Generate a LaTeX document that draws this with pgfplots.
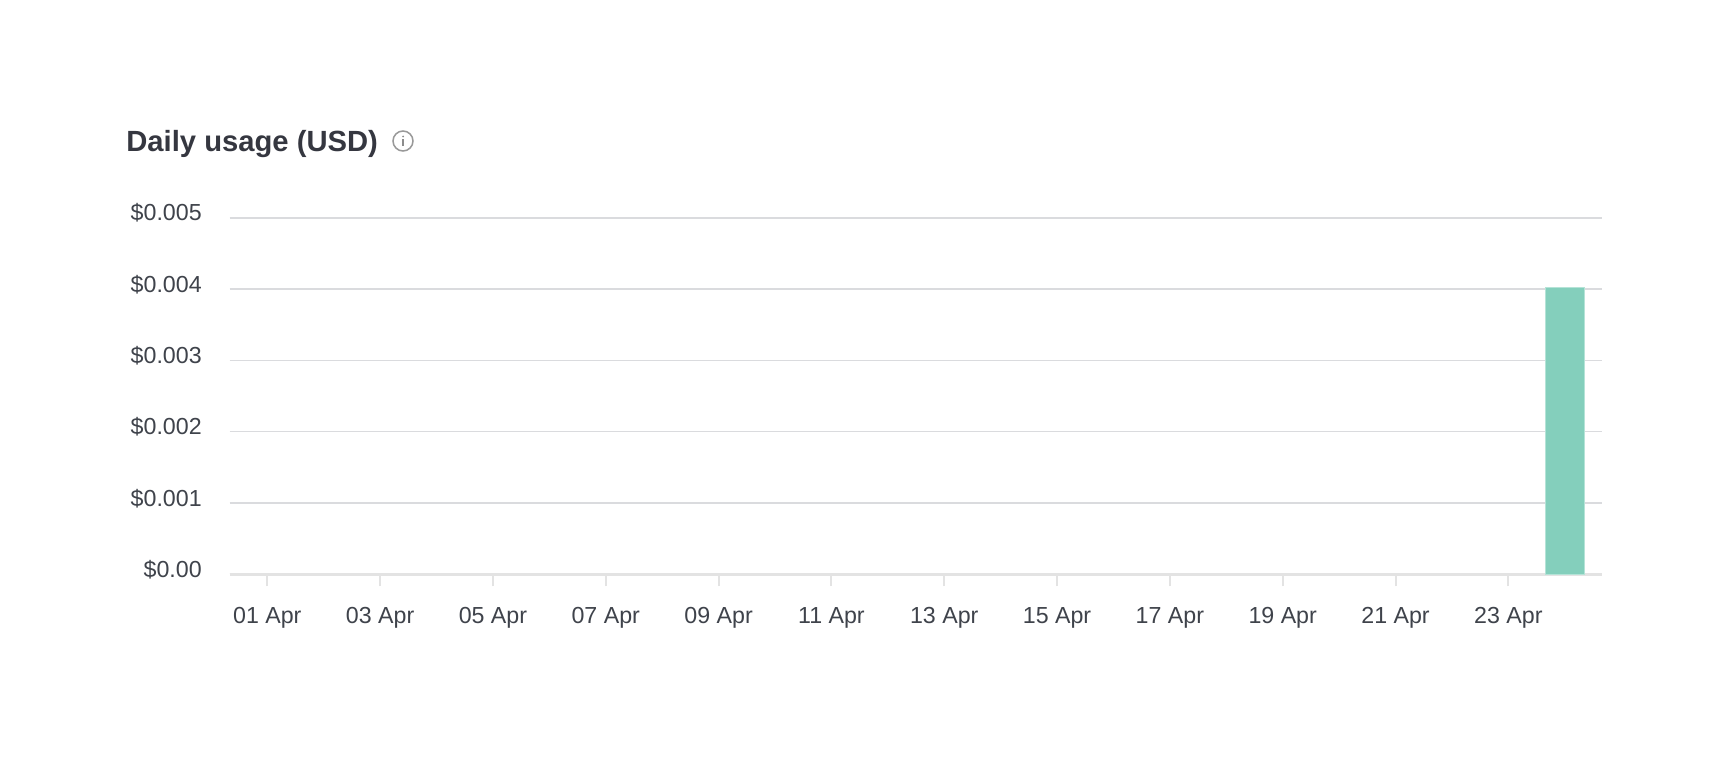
\documentclass[border=0pt]{standalone}
\usepackage{pgfplots}
\pgfplotsset{compat=1.18}
\usepackage{fontspec}
\setmainfont{Liberation Sans}
\definecolor{txt}{HTML}{3F434B}
\definecolor{ttl}{HTML}{353740}
\definecolor{gridc}{HTML}{DADBDE}
\definecolor{axc}{HTML}{E3E3E3}
\definecolor{barc}{HTML}{84CFBC}
\definecolor{bare}{HTML}{B5E3D7}
\begin{document}
\begin{tikzpicture}[x=0.5pt,y=0.5pt]
\path[use as bounding box, fill=white] (0,0) rectangle (1730,756);
\begin{axis}[
  at={(114.75pt,90.9pt)}, anchor=origin,
  scale only axis, width=686.25pt, height=178.2pt,
  xmin=0.33, xmax=24.66, ymin=0, ymax=0.005,
  axis x line=bottom, axis y line=left,
  x axis line style={draw=axc, line width=1.7pt, -},
  y axis line style={draw=none, -},
  clip=false,
  scaled y ticks=false,
  xtick={1,3,...,23},
  xticklabels={01 Apr,03 Apr,05 Apr,07 Apr,09 Apr,11 Apr,13 Apr,15 Apr,17 Apr,19 Apr,21 Apr,23 Apr},
  ytick={0,0.001,0.002,0.003,0.004,0.005},
  yticklabels={\$0.00,\$0.001,\$0.002,\$0.003,\$0.004,\$0.005},
  x tick style={draw=axc, line width=1pt},
  y tick style={draw=none},
  x tick label style={font=\fontsize{11.6pt}{13pt}\selectfont, text=txt, yshift=-6.9pt},
  y tick label style={font=\fontsize{11.6pt}{13pt}\selectfont, text=txt, anchor=base east, inner sep=0pt, xshift=-7.7pt, yshift=-1.6pt},
  major tick length=6pt,
  tick align=outside,
  ymajorgrids=true,
  grid style={draw=gridc, line width=0.85pt},
  ybar, bar width=19.5pt,
]
\addplot[ybar, bar shift=0pt, draw=bare, line width=0.5pt, fill=barc, restrict y to domain=0.001:1]
 coordinates {(1,0)(2,0)(3,0)(4,0)(5,0)(6,0)(7,0)(8,0)(9,0)(10,0)(11,0)(12,0)(13,0)(14,0)(15,0)(16,0)(17,0)(18,0)(19,0)(20,0)(21,0)(22,0)(23,0)(24,0.00402)};
\end{axis}
\node[anchor=base west, inner sep=0pt, text=ttl, font=\fontsize{14.6pt}{16pt}\selectfont\bfseries] at (126,604) {Daily usage (USD)};
\draw[draw=black!40, line width=0.75pt] (403,615) circle (10);
\fill[black!45] (403,619.5) circle (1);
\fill[black!45] (402.2,609.5) rectangle (403.8,616.5);
\end{tikzpicture}
\end{document}
